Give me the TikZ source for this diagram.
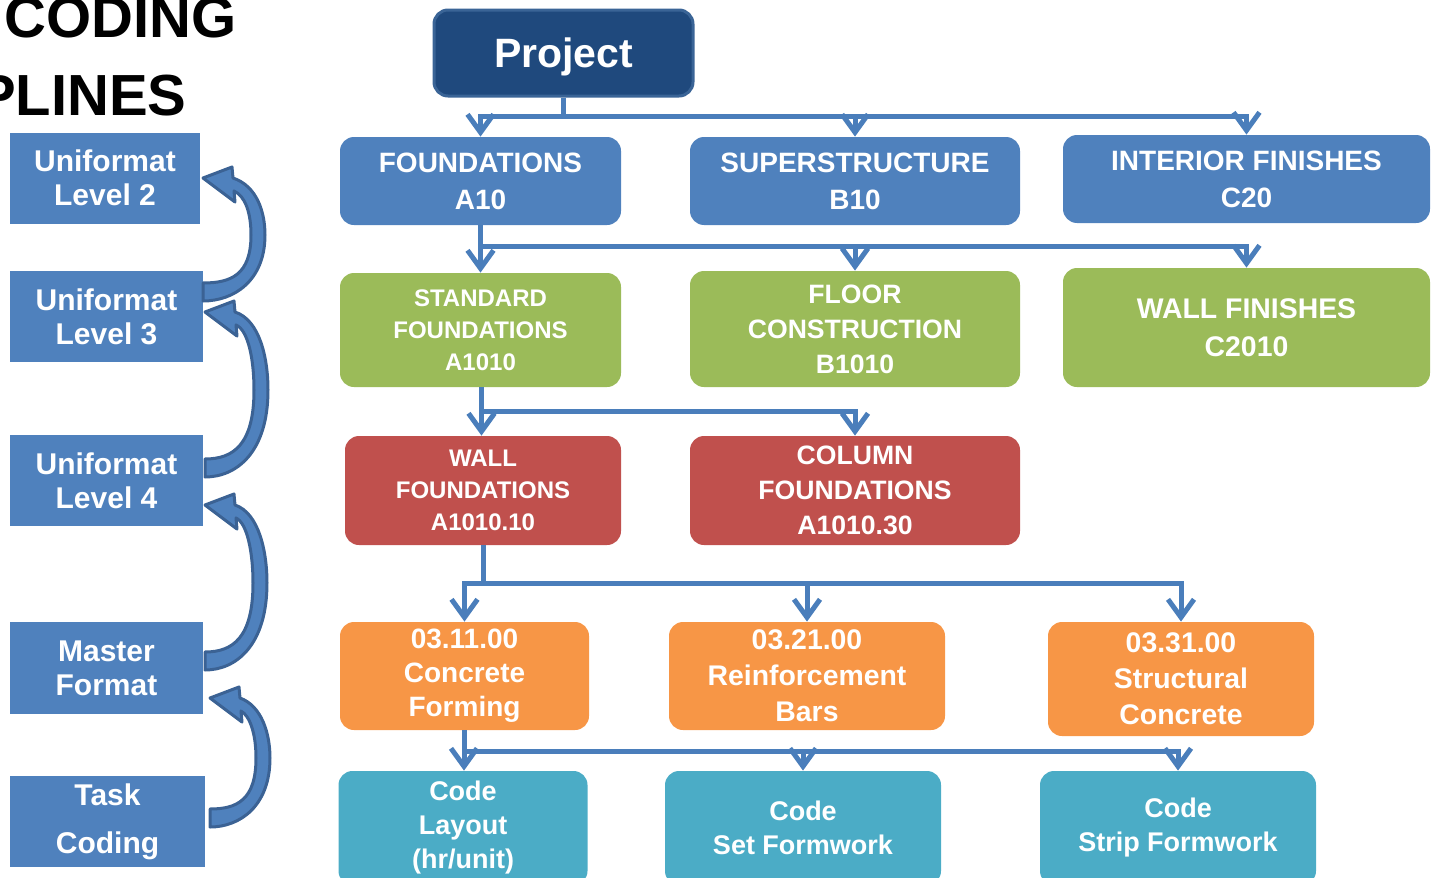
\documentclass[tikz,border=0pt]{standalone}
\usepackage{fontspec}
\setmainfont{Liberation Sans}
\usetikzlibrary{arrows.meta}
\definecolor{navy}{HTML}{1F497D}
\definecolor{navyb}{HTML}{3A6496}
\definecolor{blu}{HTML}{4F81BD}
\definecolor{grn}{HTML}{9BBB59}
\definecolor{rd}{HTML}{C0504D}
\definecolor{org}{HTML}{F79646}
\definecolor{tea}{HTML}{4BACC6}
\definecolor{lnc}{HTML}{4A7EBB}
\definecolor{arb}{HTML}{3B6294}
\newcommand\mycurvarrow[4]{%
 \fill[blu, draw=arb, line width=1.5pt, line join=round]
  (#1,#2) -- ({#1+29},{#2-11}) -- ({#1+30},{#2})
  .. controls ({#1+#4-8},{#2+8}) and ({#1+#4},{(#2+#3)/2-0.2*(#3-#2)}) .. ({#1+#4},{(#2+#3)/2})
  .. controls ({#1+#4},{#3-0.1*(#3-#2)}) and ({#1+0.5*#4},{#3+9}) .. ({#1},{#3+9})
  -- ({#1},{#3-9})
  .. controls ({#1+0.45*#4},{#3-9}) and ({#1+#4-14},{#3-0.15*(#3-#2)}) .. ({#1+#4-14},{(#2+#3)/2})
  .. controls ({#1+#4-14},{(#2+#3)/2-0.2*(#3-#2)}) and ({#1+#4-20},{#2+18}) .. ({#1+31},{#2+13})
  -- ({#1+32},{#2+24}) -- cycle;
}
\begin{document}
\begin{tikzpicture}[x=0.5pt,y=-0.5pt,
  box/.style={rounded corners=7pt, inner sep=0pt, align=center, text=white, font=\bfseries},
  lbox/.style={fill=blu, inner sep=0pt, align=center, text=white, minimum width=96.5pt, minimum height=45.5pt},
  ln/.style={draw=lnc, line width=2.5pt},
  arw/.style={ln, -{Straight Barb[length=9pt,width=13pt]}}]
\useasboundingbox (0,0) rectangle (1435,878);
\clip (0,0) rectangle (1435,878);

% title
\node[anchor=base east, inner sep=0pt, font=\bfseries\fontsize{29}{29}\selectfont] (t1) at (237,38) {CODING};
\node[anchor=base east, inner sep=0pt, font=\bfseries\fontsize{29}{29}\selectfont] (t2) at (187,115) {PLINES};

% left column
\node[lbox, minimum width=95pt, font=\bfseries\fontsize{15}{17}\selectfont] (L2) at (105,178) {Uniformat\\Level 2};
\node[lbox, font=\bfseries\fontsize{15}{17}\selectfont] (L3) at (106.5,316.5) {Uniformat\\Level 3};
\node[lbox, font=\bfseries\fontsize{15}{17}\selectfont] (L4) at (106.5,480.5) {Uniformat\\Level 4};
\node[lbox, minimum height=46pt, font=\bfseries\fontsize{15}{17}\selectfont] (MF) at (106.5,668) {Master\\Format};
\node[lbox, minimum width=97.5pt, font=\bfseries\fontsize{15}{24}\selectfont] (TC) at (107.5,821.5) {Task\\Coding};

\mycurvarrow{203}{178}{292}{62}
\mycurvarrow{205}{312}{468}{63}
\mycurvarrow{205}{505}{661}{62}
\mycurvarrow{210}{698}{818}{60}

% tree
\node[box, fill=navy, draw=navyb, line width=1.5pt, minimum width=129.5pt, minimum height=43pt, text depth=0pt, font=\bfseries\fontsize{20.5}{24}\selectfont] (P) at (563.5,53) {Project};

\node[box, fill=blu, minimum width=140.5pt, minimum height=44pt, font=\bfseries\fontsize{14}{18.5}\selectfont] (F) at (480.5,181) {FOUNDATIONS\\A10};
\node[box, fill=blu, minimum width=165pt, minimum height=44pt, font=\bfseries\fontsize{14}{18.5}\selectfont] (S) at (855,181) {SUPERSTRUCTURE\\B10};
\node[box, fill=blu, minimum width=183.5pt, minimum height=44pt, font=\bfseries\fontsize{14}{18.5}\selectfont] (I) at (1246.5,179) {INTERIOR FINISHES\\C20};

\node[box, fill=grn, minimum width=140.5pt, minimum height=57pt, font=\bfseries\fontsize{12}{16}\selectfont] (SF) at (480.5,330) {STANDARD\\FOUNDATIONS\\A1010};
\node[box, fill=grn, minimum width=165pt, minimum height=58pt, font=\bfseries\fontsize{13.3}{17.5}\selectfont] (FC) at (855,329) {FLOOR\\CONSTRUCTION\\B1010};
\node[box, fill=grn, minimum width=183.5pt, minimum height=59.5pt, font=\bfseries\fontsize{14.2}{19}\selectfont] (WF) at (1246.5,327.5) {WALL FINISHES\\C2010};

\node[box, fill=rd, minimum width=138pt, minimum height=54.5pt, font=\bfseries\fontsize{12}{16}\selectfont] (WD) at (483,490.5) {WALL\\FOUNDATIONS\\A1010.10};
\node[box, fill=rd, minimum width=165pt, minimum height=54.5pt, font=\bfseries\fontsize{13.3}{17.5}\selectfont] (CF) at (855,490.5) {COLUMN\\FOUNDATIONS\\A1010.30};

\node[box, fill=org, minimum width=124.5pt, minimum height=54pt, font=\bfseries\fontsize{14}{17}\selectfont] (O1) at (464.5,676) {03.11.00\\Concrete\\Forming};
\node[box, fill=org, minimum width=138pt, minimum height=54pt, font=\bfseries\fontsize{14.2}{18}\selectfont] (O2) at (807,676) {03.21.00\\Reinforcement\\Bars};
\node[box, fill=org, minimum width=133pt, minimum height=57pt, font=\bfseries\fontsize{14.2}{18}\selectfont] (O3) at (1181,679) {03.31.00\\Structural\\Concrete};

\node[box, fill=tea, minimum width=124.5pt, minimum height=57pt, font=\bfseries\fontsize{13.5}{17}\selectfont] (T1) at (463,828) {Code\\Layout\\(hr/unit)};
\node[box, fill=tea, minimum width=138pt, minimum height=57pt, font=\bfseries\fontsize{13.5}{17}\selectfont] (T2) at (803,828) {Code\\Set Formwork};
\node[box, fill=tea, minimum width=138pt, minimum height=57pt, font=\bfseries\fontsize{13.5}{17}\selectfont] (T3) at (1178,828) {Code\\Strip Formwork};

% connectors
\coordinate (j1) at (563.5,116);
\draw[ln] (P.south) -- (j1);
\draw[arw] (j1) -| (F.north);
\draw[arw] (j1) -| (S.north);
\draw[arw] (j1) -| (I.north);

\coordinate (j2) at (480.5,246);
\draw[arw] (F.south) -- (SF.north);
\draw[arw] (j2) -| (FC.north);
\draw[arw] (j2) -| (WF.north);

\coordinate (j3) at (481.5,411);
\draw[arw] (SF.south -| j3) -- (j3 |- WD.north);
\draw[arw] (j3) -| (CF.north);

\coordinate (j4) at (483,583);
\draw[ln] (WD.south) -- (j4);
\draw[arw] (j4) -| (O1.north);
\draw[arw] (j4) -| (O2.north);
\draw[arw] (j4) -| (O3.north);

\coordinate (j5) at (464,751);
\draw[arw] (O1.south -| j5) -- (j5 |- T1.north);
\draw[arw] (j5) -| (T2.north);
\draw[arw] (j5) -| (T3.north);
\end{tikzpicture}
\end{document}
